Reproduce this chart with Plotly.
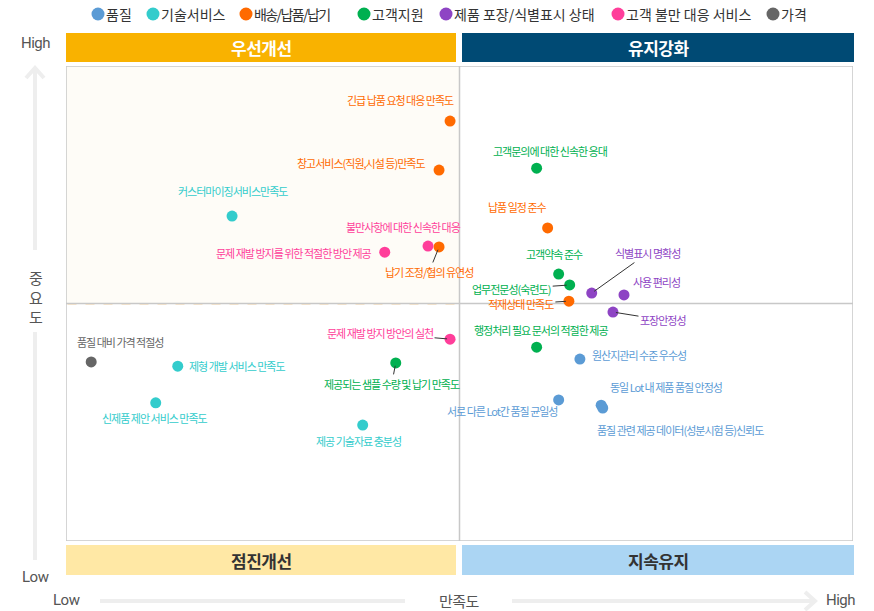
import plotly.graph_objects as go

# ---------------- data ----------------
categories = ["품질", "기술서비스", "배송/납품/납기", "고객지원",
              "제품 포장/식별표시 상태", "고객 불만 대응 서비스", "가격"]
colors = ["#5B9BD5", "#33CCCC", "#FF6A00", "#00B050", "#8E44C4", "#FF3E9A", "#666666"]

quality_items = ["원산지관리 수준 우수성", "동일 Lot 내 제품 품질 안정성",
                 "품질 관련 제공 데이터(성분시험 등)신뢰도", "서로 다른 Lot간 품질 균일성"]
quality_sat = [65.3, 68.0, 68.2, 62.6]
quality_imp = [38.3, 28.6, 28.0, 29.7]

tech_items = ["커스터마이징서비스만족도", "제형 개발 서비스 만족도",
              "신제품 제안 서비스 만족도", "제공 기술자료 충분성"]
tech_sat = [21.1, 14.2, 11.4, 37.7]
tech_imp = [68.4, 36.8, 29.1, 24.4]

delivery_items = ["긴급 납품 요청 대응 만족도", "창고서비스(직원,시설 등)만족도",
                  "납기 조정/협의 유연성", "납품 일정 준수", "적재상태 만족도"]
delivery_sat = [48.8, 47.4, 47.4, 61.2, 63.9]
delivery_imp = [88.4, 78.1, 61.9, 65.9, 50.5]

support_items = ["고객문의에 대한 신속한 응대", "고객약속 준수", "업무전문성(숙련도)",
                 "행정처리 필요 문서의 적절한 제공", "제공되는 샘플 수량 및 납기 만족도"]
support_sat = [59.8, 62.6, 64.0, 59.8, 41.9]
support_imp = [78.5, 56.2, 53.9, 40.8, 37.5]

package_items = ["식별표시 명확성", "사용 편리성", "포장안정성"]
package_sat = [66.8, 70.9, 69.5]
package_imp = [52.2, 51.8, 48.2]

complaint_items = ["불만사항에 대한 신속한 대응", "문제 재발 방지를 위한 적절한 방안 제공",
                   "문제 재발 방지 방안의 실천"]
complaint_sat = [46.0, 40.5, 48.8]
complaint_imp = [62.1, 60.8, 42.5]

price_items = ["품질 대비 가격 적절성"]
price_sat = [3.2]
price_imp = [37.7]

quadrant_names = ["우선개선", "유지강화", "점진개선", "지속유지"]
axis_low, axis_high = "Low", "High"
x_title, y_title = "만족도", "중요도"

series = [
    (quality_items, quality_sat, quality_imp),
    (tech_items, tech_sat, tech_imp),
    (delivery_items, delivery_sat, delivery_imp),
    (support_items, support_sat, support_imp),
    (package_items, package_sat, package_imp),
    (complaint_items, complaint_sat, complaint_imp),
    (price_items, price_sat, price_imp),
]

# ---------------- label placement (pixels, styling only) ----------------
# ("t", xanchor, dx, dy)  plain label offset;  ("a", ax, ay) label with leader line
label_pos = {
    "긴급 납품 요청 대응 만족도": ("t", "right", 6, -21),
    "창고서비스(직원,시설 등)만족도": ("t", "right", -12, -7),
    "커스터마이징서비스만족도": ("t", "center", 1, -25),
    "불만사항에 대한 신속한 대응": ("t", "center", -25, -19),
    "납기 조정/협의 유연성": ("a", -10, 25),
    "문제 재발 방지를 위한 적절한 방안 제공": ("t", "right", -11, 1),
    "고객문의에 대한 신속한 응대": ("t", "center", 13, -17),
    "납품 일정 준수": ("t", "right", 1, -21),
    "고객약속 준수": ("t", "center", -4, -20),
    "업무전문성(숙련도)": ("a", -58, 4),
    "적재상태 만족도": ("a", -48, 3),
    "식별표시 명확성": ("a", 56, -40),
    "사용 편리성": ("t", "center", 33, -13),
    "포장안정성": ("a", 50, 8),
    "행정처리 필요 문서의 적절한 제공": ("t", "center", 4, -17),
    "원산지관리 수준 우수성": ("t", "left", 10, -4),
    "동일 Lot 내 제품 품질 안정성": ("t", "center", 65, -18),
    "품질 관련 제공 데이터(성분시험 등)신뢰도": ("t", "center", 78, 22),
    "서로 다른 Lot간 품질 균일성": ("t", "right", 1, 11),
    "품질 대비 가격 적절성": ("t", "center", 29, -20),
    "제형 개발 서비스 만족도": ("t", "left", 9, 0),
    "신제품 제안 서비스 만족도": ("t", "center", -1, 15),
    "문제 재발 방지 방안의 실천": ("a", -70, -6),
    "제공되는 샘플 수량 및 납기 만족도": ("a", -4, 21),
    "제공 기술자료 충분성": ("t", "center", -4, 16),
}

# legend layout (page pixels / letter spacing), styling only
legend_x = [98, 153, 246, 364, 446, 618, 773]
legend_ls = ["0px", "0px", "-1.6px", "0px", "0px", "0px", "0px"]

FONT = "Noto Sans CJK KR, Noto Sans, sans-serif"
NARROW = "Liberation Sans Narrow, Roboto, Liberation Sans, sans-serif"
W, H = 874, 611
L, R, T, B = 66, 853, 66, 541  # plot area in page pixels


def px(x):
    return (x - L) / (R - L)


def py(y):
    return (B - y) / (B - T)


def tight(s, ls="-1px"):
    return f'<span style="letter-spacing:{ls}">{s}</span>'


fig = go.Figure()

shapes = []
annotations = []

# top-left quadrant background + dashed border
shapes.append(dict(type="rect", xref="x", yref="y", x0=0, x1=50, y0=50, y1=100,
                   fillcolor="#FEFCF7", line=dict(width=0), layer="below"))
# frame and quadrant dividers
shapes.append(dict(type="rect", xref="x", yref="y", x0=0, x1=100, y0=0, y1=100,
                   line=dict(color="#C8C8C8", width=1.5), layer="below"))
shapes.append(dict(type="line", xref="x", yref="y", x0=50, x1=50, y0=0, y1=100,
                   line=dict(color="#C8C8C8", width=1.5), layer="below"))
shapes.append(dict(type="line", xref="x", yref="y", x0=0, x1=100, y0=50, y1=50,
                   line=dict(color="#C8C8C8", width=1.5), layer="below"))
shapes.append(dict(type="rect", xref="paper", yref="paper",
                   x0=px(67.5), x1=px(457.5), y0=py(303.5), y1=py(67.5),
                   line=dict(color="#F7A83A", width=1.5, dash="dash"), layer="below"))

# header / footer bands
bands = [
    (66, 456, 33, 62, "#F9B200", "#FFFFFF"),
    (462, 854, 33, 62, "#004A74", "#FFFFFF"),
    (66, 456, 545, 575, "#FFE8A5", "#333333"),
    (462, 854, 545, 575, "#ABD5F3", "#333333"),
]
for (x0, x1, y0, y1, fc, tc), name in zip(bands, quadrant_names):
    shapes.append(dict(type="rect", xref="paper", yref="paper",
                       x0=px(x0), x1=px(x1), y0=py(y1), y1=py(y0),
                       fillcolor=fc, line=dict(width=0)))
    annotations.append(dict(xref="paper", yref="paper", x=px((x0 + x1) / 2),
                            y=py((y0 + y1) / 2), text="<b>" + tight(name, "-0.5px") + "</b>",
                            showarrow=False, xanchor="center", yanchor="middle",
                            font=dict(family=FONT, size=17, color=tc)))

# axis arrows (light grey)
AX_C = "#EEEEEE"
axis_lines = [
    ((35, 250), (35, 68)),
    ((35, 332), (35, 560)),
    ((100, 601), (405, 601)),
    ((512, 601), (815, 601)),
]
for (a, b) in axis_lines:
    shapes.append(dict(type="line", xref="paper", yref="paper",
                       x0=px(a[0]), y0=py(a[1]), x1=px(b[0]), y1=py(b[1]),
                       line=dict(color=AX_C, width=4)))
chevrons = [
    [(26, 78), (35, 68), (44, 78)],
    [(805, 592), (815, 601), (805, 610)],
]
for pts in chevrons:
    path = "M " + " L ".join(f"{px(x):.5f},{py(y):.5f}" for x, y in pts)
    shapes.append(dict(type="path", xref="paper", yref="paper", path=path,
                       line=dict(color=AX_C, width=4)))

axis_texts = [
    (35, 43, axis_high), (35, 577, axis_low), (66, 600, axis_low), (840, 600, axis_high),
]
for x, y, t in axis_texts:
    annotations.append(dict(xref="paper", yref="paper", x=px(x), y=py(y), text=tight(t, "-0.5px"),
                            showarrow=False, xanchor="center", yanchor="middle",
                            font=dict(family=NARROW, size=15, color="#555555")))
annotations.append(dict(xref="paper", yref="paper", x=px(459), y=py(600), text=tight(x_title, "-0.5px"),
                        showarrow=False, xanchor="center", yanchor="middle",
                        font=dict(family=FONT, size=15, color="#555555")))
annotations.append(dict(xref="paper", yref="paper", x=px(36), y=py(297),
                        text="<br>".join(list(y_title)),
                        showarrow=False, xanchor="center", yanchor="middle",
                        font=dict(family=FONT, size=15, color="#555555")))

# manual legend
for cx, ls, cat, col in zip(legend_x, legend_ls, categories, colors):
    shapes.append(dict(type="circle", xref="paper", yref="paper",
                       xsizemode="pixel", ysizemode="pixel",
                       xanchor=px(cx), yanchor=py(14),
                       x0=-6.5, x1=6.5, y0=-6.5, y1=6.5,
                       fillcolor=col, line=dict(width=0)))
    annotations.append(dict(xref="paper", yref="paper", x=px(cx + 6), y=py(14),
                            text=tight(cat, ls), showarrow=False,
                            xanchor="left", yanchor="middle",
                            font=dict(family=FONT, size=14, color="#333333")))

# points and labels
for (items, sat, imp), cat, col in zip(series, categories, colors):
    fig.add_trace(go.Scatter(
        x=sat, y=imp, mode="markers", name=cat, text=items,
        marker=dict(color=col, size=11, line=dict(width=0)),
        hovertemplate="%{text}<br>만족도 %{x}<br>중요도 %{y}<extra></extra>",
        showlegend=False))
    for name, xv, yv in zip(items, sat, imp):
        spec = label_pos[name]
        f = dict(family=FONT, size=11, color=col)
        if spec[0] == "t":
            _, xa, dx, dy = spec
            annotations.append(dict(x=xv, y=yv, xref="x", yref="y", text=tight(name),
                                    showarrow=False, xanchor=xa, yanchor="middle",
                                    xshift=dx, yshift=-dy, font=f))
        else:
            _, ax, ay = spec
            annotations.append(dict(x=xv, y=yv, xref="x", yref="y", text=tight(name),
                                    showarrow=True, arrowhead=0, arrowwidth=1,
                                    arrowcolor="#333333", standoff=3,
                                    ax=ax, ay=ay, font=f))

fig.update_layout(
    width=W, height=H,
    margin=dict(l=L, r=W - R, t=T, b=H - B),
    paper_bgcolor="#FFFFFF", plot_bgcolor="#FFFFFF",
    xaxis=dict(range=[0, 100], visible=False, fixedrange=True),
    yaxis=dict(range=[0, 100], visible=False, fixedrange=True),
    shapes=shapes, annotations=annotations,
    font=dict(family=FONT),
    showlegend=False,
)

fig.write_html("out.html",
               config={"displayModeBar": False},
               post_script="document.body.style.margin='0';document.body.style.overflow='hidden';")
